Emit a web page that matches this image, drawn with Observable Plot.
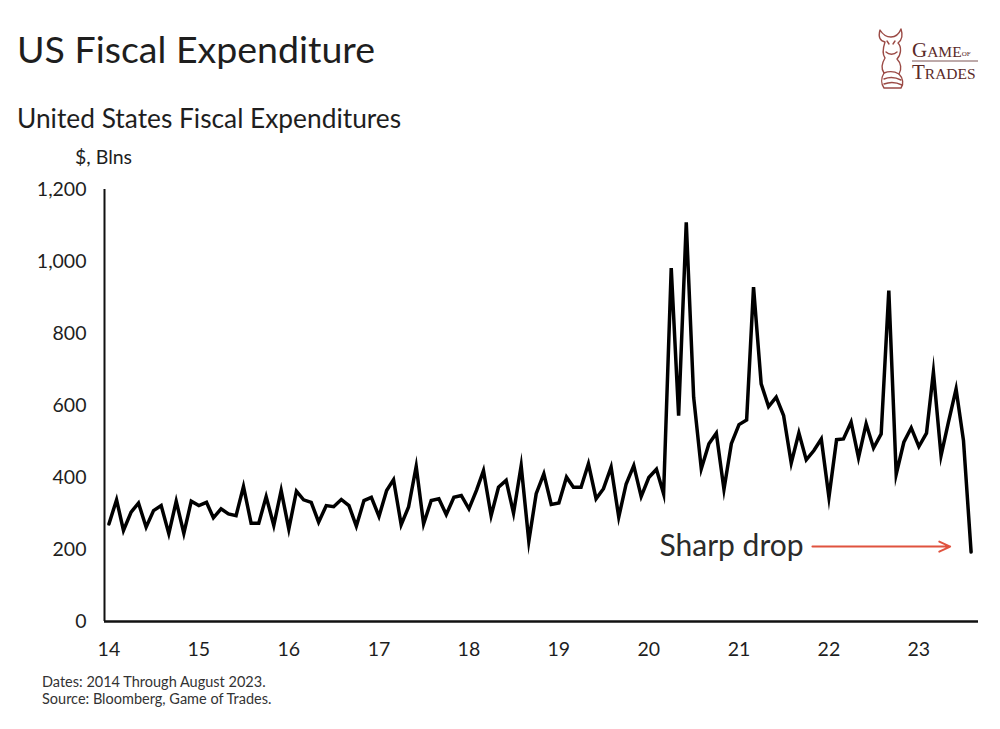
<!DOCTYPE html>
<html>
<head>
<meta charset="utf-8">
<script src="https://cdn.jsdelivr.net/npm/d3@7"></script>
<script src="https://cdn.jsdelivr.net/npm/@observablehq/plot@0.6"></script>
<style>
  body { margin: 0; background: #fff; }
  #wrap { position: relative; width: 1000px; height: 729px; font-family: Lato, "Open Sans", sans-serif; color: #1e1e1e; overflow: hidden; }
  .abs { position: absolute; white-space: nowrap; line-height: 1; }
  #chart { position: absolute; left: 0; top: 170px; }
</style>
</head>
<body>
<div id="wrap">
  <div class="abs" style="left:17px;top:30px;font-size:37.5px;">US Fiscal Expenditure</div>
  <div class="abs" style="left:17px;top:105px;font-size:26.3px;">United States Fiscal Expenditures</div>
  <div class="abs" style="left:75px;top:147px;font-size:19.5px;">$, Blns</div>
  <div class="abs" style="left:42px;top:675px;font-size:14.5px;color:#333;">Dates: 2014 Through August 2023.</div>
  <div class="abs" style="left:42px;top:692px;font-size:14.5px;color:#333;">Source: Bloomberg, Game of Trades.</div>
  <svg class="abs" style="left:874px;top:26px;" width="120" height="70" viewBox="0 0 120 70">
    <g fill="none" stroke="#9b4a45" stroke-width="1.4" stroke-linejoin="round" stroke-linecap="round">
      <path d="M6 4 C4 11 6 15 11 16 C9 22 8 28 11 32 C8 37 7 43 10 47 C7 52 7 58 10 62 L27 62 C30 58 29 52 25 48 C28 43 27 37 23 33 C27 29 28 21 24 17 C28 14 29 9 27 3 C25 8 21 11 17 11 C12 11 9 9 6 4 Z"/>
      <path d="M10 47 C15 45 20 45 25 48 M10 53 C15 51 21 51 27 54 M10 58 C15 56 22 56 28 59"/>
      <path d="M13 15 L15 18 M21 15 L19 18 M12 26 C15 29 20 29 23 26"/>
    </g>
    <text x="38" y="31" font-family="'Liberation Serif', 'DejaVu Serif', serif" font-size="21" fill="#5a2a28">G<tspan font-size="15.5">AME</tspan><tspan font-size="7" dy="-1">OF</tspan></text>
    <line x1="38" y1="35" x2="104" y2="35" stroke="#5a2a28" stroke-width="0.8"/>
    <text x="38" y="53" font-family="'Liberation Serif', 'DejaVu Serif', serif" font-size="21" fill="#5a2a28">T<tspan font-size="15.5">RADES</tspan></text>
  </svg>
  <div id="chart"></div>
</div>
<script>
// Monthly US fiscal expenditures, $ billions, Jan 2014 – Aug 2023
const startMonth = "2014-01-01";
const endMonth = "2023-09-01";
const values = [
  // 2014
  271, 338, 253, 304, 329, 262, 308, 322, 244, 334, 245, 334,
  // 2015
  322, 331, 288, 313, 299, 294, 375, 273, 273, 347, 267, 364,
  // 2016
  257, 362, 338, 331, 276, 322, 319, 339, 322, 265, 336, 345,
  // 2017
  292, 364, 394, 269, 318, 431, 271, 336, 341, 297, 345, 350,
  // 2018
  313, 365, 419, 294, 373, 392, 301, 433, 223, 355, 410, 325,
  // 2019
  329, 401, 373, 373, 438, 341, 369, 429, 290, 382, 433, 347,
  // 2020
  400, 423, 355, 982, 572, 1109, 623, 424, 494, 523, 367, 494,
  // 2021
  547, 560, 929, 660, 597, 623, 572, 440, 524, 449, 475, 507,
  // 2022
  345, 505, 507, 554, 455, 549, 482, 521, 919, 409, 498, 538,
  // 2023
  486, 523, 693, 461, 554, 646, 503, 193
];
const yTicks = [0, 200, 400, 600, 800, 1000, 1200];
const xTickYears = ["2014","2015","2016","2017","2018","2019","2020","2021","2022","2023"];
const annotationText = ["Sharp drop"];
const annotationTextAt = [{date: "2021-09-20", value: 208}];
const annotationArrow = [{from: "2021-10-26", to: "2023-05-08", value: 208}];

const dates = d3.utcMonth.range(new Date(startMonth), new Date(endMonth));
const data = dates.map((d, i) => ({date: d, value: values[i]}));

const xDomain = [new Date("2013-12-14"), new Date("2023-08-31")];

const chart = Plot.plot({
  width: 1000,
  height: 496,
  marginTop: 19,
  marginBottom: 45,
  marginLeft: 104,
  marginRight: 22,
  style: {fontFamily: "Lato, 'Open Sans', sans-serif", fontSize: "19.5px", color: "#1e1e1e", background: "transparent"},
  x: {type: "utc", domain: xDomain, ticks: xTickYears.map(s => new Date(s + "-01-01")), tickFormat: d3.utcFormat("%y"), tickSize: 0, tickPadding: 21, label: null},
  y: {domain: [0, 1200], ticks: yTicks, tickFormat: d3.format(","), tickSize: 0, tickPadding: 18, label: null},
  marks: [
    Plot.ruleX([xDomain[0]], {y1: 0, y2: 1200, stroke: "#111", strokeWidth: 2}),
    Plot.ruleY([0], {stroke: "#111", strokeWidth: 2.5}),
    Plot.lineY(data, {x: "date", y: "value", stroke: "#000", strokeWidth: 3.5, strokeLinejoin: "miter", strokeMiterlimit: 10}),
    Plot.text(annotationTextAt, {x: d => new Date(d.date), y: "value", text: (d, i) => annotationText[i], textAnchor: "end", lineAnchor: "middle", fontSize: 30, fill: "#2b2b2b", fontFamily: "Lato, sans-serif"}),
    Plot.arrow(annotationArrow, {x1: d => new Date(d.from), x2: d => new Date(d.to), y1: "value", y2: "value", stroke: "#e0533f", strokeWidth: 2, headLength: 9, headAngle: 50})
  ]
});
document.getElementById("chart").appendChild(chart);
</script>
</body>
</html>
